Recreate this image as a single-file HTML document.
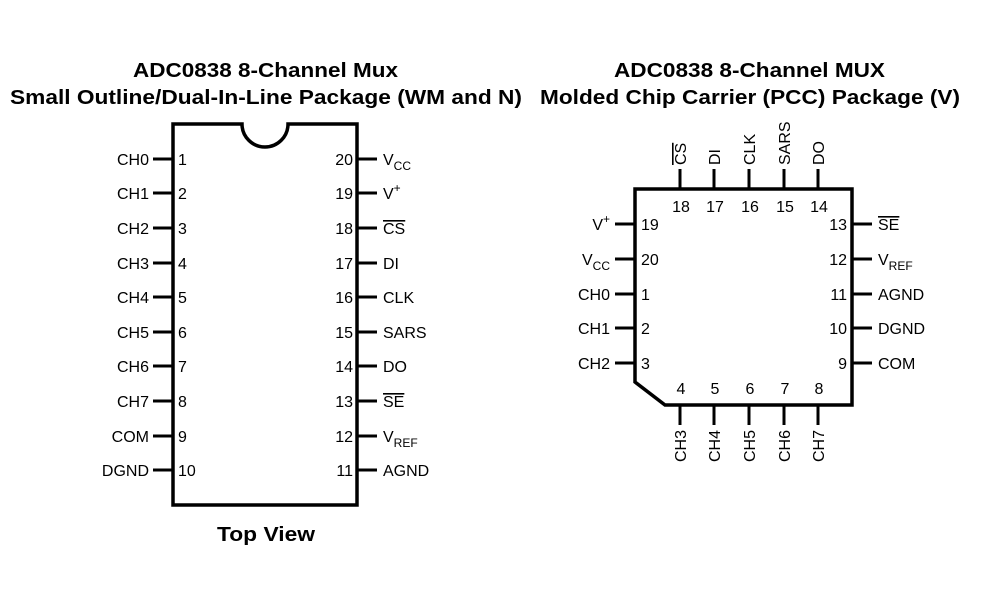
<!DOCTYPE html><html><head><style>body{margin:0;background:#fff}</style></head><body>
<svg width="986" height="591" xmlns="http://www.w3.org/2000/svg" font-family="Liberation Sans, sans-serif">
<rect width="986" height="591" fill="#fff"/>
<g font-weight="bold" font-size="20" fill="#000" lengthAdjust="spacingAndGlyphs">
<text x="133" y="77" textLength="265" lengthAdjust="spacingAndGlyphs">ADC0838 8-Channel Mux</text>
<text x="10" y="104" textLength="512" lengthAdjust="spacingAndGlyphs">Small Outline/Dual-In-Line Package (WM and N)</text>
<text x="614" y="77" textLength="271" lengthAdjust="spacingAndGlyphs">ADC0838 8-Channel MUX</text>
<text x="540" y="104" textLength="420" lengthAdjust="spacingAndGlyphs">Molded Chip Carrier (PCC) Package (V)</text>
<text x="217" y="541" textLength="98" lengthAdjust="spacingAndGlyphs">Top View</text>
</g>
<path d="M173 124 H242 A23 23 0 0 0 288 124 H357 V505 H173 Z" fill="none" stroke="#000" stroke-width="3.5"/>
<g stroke="#000" stroke-width="3">
<path d="M153 159H173M153 193H173M153 228H173M153 263H173M153 297H173M153 332H173M153 366H173M153 401H173M153 436H173M153 470H173"/>
<path d="M357 159H377M357 193H377M357 228H377M357 263H377M357 297H377M357 332H377M357 366H377M357 401H377M357 436H377M357 470H377"/>
</g>
<g font-size="16" fill="#000">
<g text-anchor="end">
<text x="149" y="165">CH0</text><text x="149" y="199">CH1</text><text x="149" y="234">CH2</text><text x="149" y="269">CH3</text><text x="149" y="303">CH4</text><text x="149" y="338">CH5</text><text x="149" y="372">CH6</text><text x="149" y="407">CH7</text><text x="149" y="442">COM</text><text x="149" y="476">DGND</text>
<text x="353" y="165">20</text><text x="353" y="199">19</text><text x="353" y="234">18</text><text x="353" y="269">17</text><text x="353" y="303">16</text><text x="353" y="338">15</text><text x="353" y="372">14</text><text x="353" y="407">13</text><text x="353" y="442">12</text><text x="353" y="476">11</text>
</g>
<text x="178" y="165">1</text><text x="178" y="199">2</text><text x="178" y="234">3</text><text x="178" y="269">4</text><text x="178" y="303">5</text><text x="178" y="338">6</text><text x="178" y="372">7</text><text x="178" y="407">8</text><text x="178" y="442">9</text><text x="178" y="476">10</text>
<text x="383" y="165">V<tspan font-size="12" dy="5">CC</tspan></text>
<text x="383" y="199">V<tspan font-size="12" dy="-7">+</tspan></text>
<text x="383" y="234" text-decoration="overline">CS</text>
<text x="383" y="269">DI</text><text x="383" y="303">CLK</text><text x="383" y="338">SARS</text><text x="383" y="372">DO</text>
<text x="383" y="407" text-decoration="overline">SE</text>
<text x="383" y="442">V<tspan font-size="12" dy="5">REF</tspan></text>
<text x="383" y="476">AGND</text>
</g>
<path d="M635 189 H852 V405 H665 L635 382 Z" fill="none" stroke="#000" stroke-width="3.5"/>
<g stroke="#000" stroke-width="3">
<path d="M680 169V189M714 169V189M749 169V189M784 169V189M818 169V189"/>
<path d="M680 405V425M714 405V425M749 405V425M784 405V425M818 405V425"/>
<path d="M615 224H635M615 259H635M615 294H635M615 328H635M615 363H635"/>
<path d="M852 224H872M852 259H872M852 294H872M852 328H872M852 363H872"/>
</g>
<g font-size="16" fill="#000">
<g text-anchor="middle">
<text x="681" y="212">18</text><text x="715" y="212">17</text><text x="750" y="212">16</text><text x="785" y="212">15</text><text x="819" y="212">14</text>
<text x="681" y="394">4</text><text x="715" y="394">5</text><text x="750" y="394">6</text><text x="785" y="394">7</text><text x="819" y="394">8</text>
</g>
<text x="641" y="230">19</text><text x="641" y="265">20</text><text x="641" y="300">1</text><text x="641" y="334">2</text><text x="641" y="369">3</text>
<g text-anchor="end">
<text x="847" y="230">13</text><text x="847" y="265">12</text><text x="847" y="300">11</text><text x="847" y="334">10</text><text x="847" y="369">9</text>
<text x="610" y="230">V<tspan font-size="12" dy="-7">+</tspan></text>
<text x="610" y="265">V<tspan font-size="12" dy="5">CC</tspan></text>
<text x="610" y="300">CH0</text><text x="610" y="334">CH1</text><text x="610" y="369">CH2</text>
</g>
<text x="878" y="230" text-decoration="overline">SE</text>
<text x="878" y="265">V<tspan font-size="12" dy="5">REF</tspan></text>
<text x="878" y="300">AGND</text><text x="878" y="334">DGND</text><text x="878" y="369">COM</text>
<g>
<text transform="translate(686,165) rotate(-90)" text-decoration="overline">CS</text>
<text transform="translate(720,165) rotate(-90)">DI</text>
<text transform="translate(755,165) rotate(-90)">CLK</text>
<text transform="translate(790,165) rotate(-90)">SARS</text>
<text transform="translate(824,165) rotate(-90)">DO</text>
<g text-anchor="end">
<text transform="translate(686,430) rotate(-90)">CH3</text>
<text transform="translate(720,430) rotate(-90)">CH4</text>
<text transform="translate(755,430) rotate(-90)">CH5</text>
<text transform="translate(790,430) rotate(-90)">CH6</text>
<text transform="translate(824,430) rotate(-90)">CH7</text>
</g>
</g>
</g>
</svg>
</body></html>
